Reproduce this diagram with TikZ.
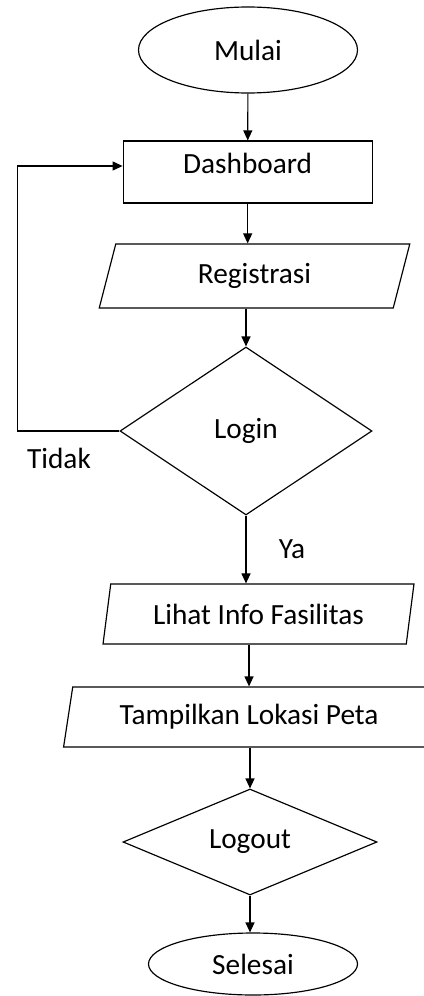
\documentclass[tikz,border=0pt]{standalone}
\usepackage{fontspec}
\setmainfont{Carlito}
\usetikzlibrary{arrows.meta,positioning,shapes.geometric}

\begin{document}
\begin{tikzpicture}[
  font=\fontsize{25}{30}\selectfont,
  line width=1pt,
  terminal/.style={draw,ellipse,minimum width=6.57cm,minimum height=2.58cm,inner sep=0pt},
  process/.style={draw,rectangle,minimum width=7.47cm,minimum height=1.86cm},
  io/.style={draw,trapezium,trapezium left angle=75,trapezium right angle=105,
             trapezium stretches=true,minimum height=1.86cm,inner sep=0pt},
  decision/.style={draw,diamond,aspect=2,inner sep=0pt},
  arr/.style={-{Triangle[length=0.3cm,width=0.27cm]}},
  label_style/.style={inner sep=0pt},
]
\useasboundingbox (0,0) rectangle (12.69,-29.88);

%% ===== Start and dashboard ===================================================
\node[terminal] (mulai) at (7.44,-1.5) {Mulai};
\node[process,text depth=0.55cm] (dash) at (7.43,-5.16) {Dashboard};
\draw[arr] (mulai) -- (dash);

%% ===== Registrasi ============================================================
\node[io,minimum width=9.33cm,minimum height=1.92cm] (reg) at (7.635,-8.28) {Registrasi};
\draw[arr] (dash.south) -- (dash.south |- reg.north);

%% ===== Login decision ========================================================
\node[decision,minimum width=7.56cm,minimum height=5.04cm] (login) at (7.38,-12.93) {Login};
\draw[arr] (login.north |- reg.south) -- (login.north);
\draw[arr] (login.west) -- ++(-3.06,0) |- ([yshift=0.18cm]dash.west);
\node[label_style] (tidak) at (1.77,-13.74) {Tidak};

%% ===== Info and map ==========================================================
\node[io,minimum width=9.33cm,minimum height=1.8cm] (lihat) at (7.755,-18.42) {Lihat Info Fasilitas};
\draw[arr] (login.south) -- (login.south |- lihat.north);
\node[label_style] (ya) at (8.76,-16.47) {Ya};

\node[io,minimum width=11.16cm,minimum height=1.8cm] (tampil) at (7.47,-21.51) {Tampilkan Lokasi Peta};
\draw[arr] (lihat.south -| tampil.north) -- (tampil.north);

%% ===== Logout and end ========================================================
\node[decision,minimum width=7.62cm,minimum height=3.18cm] (logout) at (7.5,-25.26) {Logout};
\draw[arr] (logout.north |- tampil.south) -- (logout.north);

\node[terminal,minimum width=6.27cm,minimum height=1.86cm] (selesai) at (7.59,-28.92) {Selesai};
\draw[arr] (logout.south) -- (logout.south |- selesai.north);

\end{tikzpicture}
\end{document}
